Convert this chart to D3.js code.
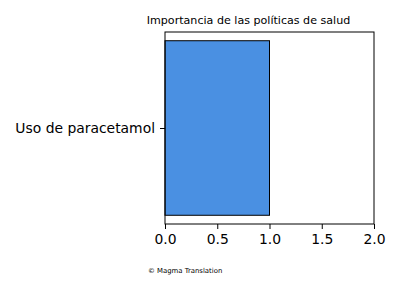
<!DOCTYPE html>
<html>
<head>
<meta charset="utf-8">
<script src="https://cdn.jsdelivr.net/npm/d3@7"></script>
<style>
  body { margin: 0; background: #fff; }
  text { font-family: "DejaVu Sans", sans-serif; }
</style>
</head>
<body>
<svg id="chart" width="400" height="300"></svg>
<script>
  // Data
  var categories = ['Uso de paracetamol']
  var values = [1.0]
  var xTicks = [0.0, 0.5, 1.0, 1.5, 2.0]

  var BAR_COLOR = '#4a90e2'
  var margin = { left: 165, top: 32, right: 26, bottom: 76 }
  var width = 400 - margin.left - margin.right
  var height = 300 - margin.top - margin.bottom

  var svg = d3.select('#chart')
  var g = svg.append('g')
    .attr('transform', 'translate(' + margin.left + ',' + margin.top + ')')

  var x = d3.scaleLinear().domain([0, 2]).range([0, width])

  // matplotlib style: bar height 0.8, margins 5%
  var y = d3.scaleLinear().domain([-0.44, 0.44]).range([0, height])

  g.selectAll('rect.bar')
    .data(categories)
    .enter()
    .append('rect')
    .attr('class', 'bar')
    .attr('x', x(0))
    .attr('y', function (d, i) { return y(i - 0.4) })
    .attr('width', function (d, i) { return x(values[i]) - x(0) })
    .attr('height', function (d, i) { return y(i + 0.4) - y(i - 0.4) })
    .attr('fill', BAR_COLOR)
    .attr('stroke', '#000')
    .attr('stroke-width', 1)

  // frame
  g.append('rect')
    .attr('width', width)
    .attr('height', height)
    .attr('fill', 'none')
    .attr('stroke', '#000')
    .attr('stroke-width', 1)

  // x axis
  var xAxis = g.append('g')
    .attr('transform', 'translate(0,' + height + ')')
    .call(d3.axisBottom(x).tickValues(xTicks).tickFormat(d3.format('.1f')).tickSize(5).tickPadding(4))
  xAxis.select('.domain').remove()
  xAxis.selectAll('text').attr('font-size', 13.9).attr('font-family', 'DejaVu Sans').attr('fill', '#000').attr('dy', '0.78em')

  // y axis
  var yAxis = g.append('g')
    .call(d3.axisLeft(y).tickValues(categories.map(function (d, i) { return i }))
      .tickFormat(function (d) { return categories[d] }).tickSize(5).tickPadding(5))
  yAxis.select('.domain').remove()
  yAxis.selectAll('text').attr('font-size', 13.9).attr('font-family', 'DejaVu Sans').attr('fill', '#000')

  // title
  svg.append('text')
    .attr('x', 248.5)
    .attr('y', 24)
    .attr('text-anchor', 'middle')
    .attr('font-size', 11.1)
    .text('Importancia de las políticas de salud')

  // credit
  svg.append('text')
    .attr('x', 148)
    .attr('y', 273)
    .attr('font-size', 6.9)
    .text('© Magma Translation')
</script>
</body>
</html>
